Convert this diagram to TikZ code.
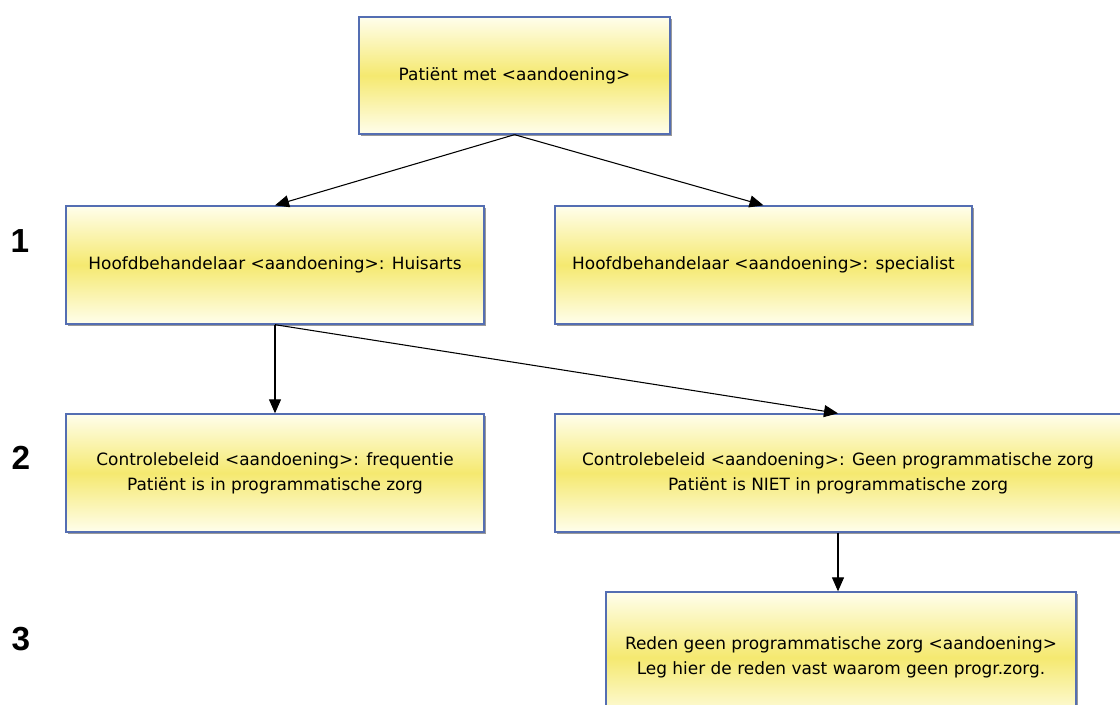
\documentclass[tikz,border=0pt]{standalone}
\usepackage{fontspec}
\setmainfont{DejaVu Sans}
\newfontfamily\labelfont{Liberation Sans}
\usetikzlibrary{arrows.meta,shadows}
\definecolor{boxborder}{RGB}{84,110,178}
\definecolor{boxmid}{RGB}{245,233,112}
\definecolor{boxedge}{RGB}{255,254,236}
\begin{document}
\begin{tikzpicture}[x=0.75pt,y=-0.75pt,
  box/.style={draw=boxborder, line width=1pt, rectangle, inner sep=0pt,
    top color=boxedge, bottom color=boxedge, middle color=boxmid,
    drop shadow={shadow xshift=1.5pt, shadow yshift=-1.5pt, fill=black, opacity=0.4},
    align=center, font=\fontsize{12.7pt}{18.75pt}\selectfont},
  conn/.style={draw=black, line width=0.8pt, -{Triangle[length=10.5pt,width=9pt]}},
  lvl/.style={font=\labelfont\bfseries\fontsize{25pt}{28pt}\selectfont, inner sep=0pt}]
\useasboundingbox (0,0) rectangle (1120,705);
\clip (0,0) rectangle (1120,705);
\fill[white] (0,0) rectangle (1120,705);

\node[box, minimum width=311*0.75pt, minimum height=117*0.75pt] (A) at (514.5,75.5) {Patiënt met <aandoening>};
\node[box, minimum width=418*0.75pt, minimum height=118*0.75pt] (B) at (275,265) {Hoofdbehandelaar <aandoening>: Huisarts};
\node[box, minimum width=417*0.75pt, minimum height=118*0.75pt] (C) at (763.5,265) {Hoofdbehandelaar <aandoening>: specialist};
\node[box, minimum width=418*0.75pt, minimum height=118*0.75pt] (D) at (275,473) {Controlebeleid <aandoening>: frequentie\\Patiënt is in programmatische zorg};
\node[box, minimum width=566*0.75pt, minimum height=118*0.75pt] (E) at (838,473) {Controlebeleid <aandoening>: Geen programmatische zorg\\Patiënt is NIET in programmatische zorg};
\node[box, minimum width=470*0.75pt, minimum height=131*0.75pt] (F) at (841,657.5) {Reden geen programmatische zorg <aandoening>\\Leg hier de reden vast waarom geen progr.zorg.};

\node[lvl] (l1) at (20,241) {1};
\node[lvl] (l2) at (21,458) {2};
\node[lvl] (l3) at (21,639) {3};

\draw[conn] (A.south) -- (B.north);
\draw[conn] (A.south) -- (C.north);
\draw[conn] (B.south) -- (D.north);
\draw[conn] (B.south) -- (E.north);
\draw[conn] (E.south) -- (E.south |- F.north);
\end{tikzpicture}
\end{document}
